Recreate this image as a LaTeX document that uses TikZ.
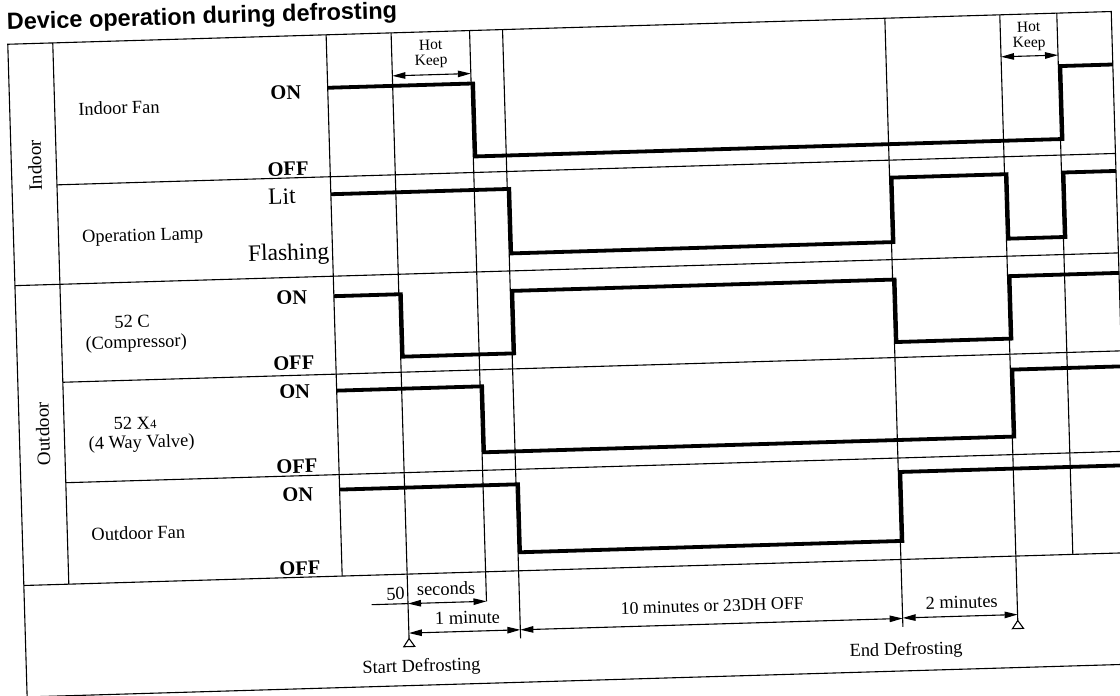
\documentclass[tikz,border=0pt]{standalone}
\usepackage{fontspec}
\setmainfont{Liberation Serif}
\newfontfamily\titlefont{Liberation Sans}
\usetikzlibrary{arrows.meta}
\tikzset{
  frame/.style={line width=1.1pt},
  sig/.style={line width=3.8pt, line join=miter},
  dimarrow/.style={line width=1.1pt, arrows={Triangle[length=13pt,width=6.5pt]-Triangle[length=13pt,width=6.5pt]}},
  txt/.style={inner sep=0pt, font=\fontsize{18.4}{20}\selectfont},
  onoff/.style={inner sep=0pt, anchor=base, font=\bfseries\fontsize{20.5}{22}\selectfont},
  big/.style={inner sep=0pt, anchor=base, font=\fontsize{23.5}{26}\selectfont},
  hk/.style={inner sep=0pt, anchor=base, font=\fontsize{15.5}{17}\selectfont},
  marker/.style={line width=1.1pt},
}
\begin{document}
\begin{tikzpicture}[x=1pt,y=-1pt]
\useasboundingbox (0,0) rectangle (1120,696);
\clip (0,0) rectangle (1120,696);
\def\xL{17}\def\xG{62}\def\xC{335.5}\def\xR{1121}
\def\tA{400.5}\def\tB{479}\def\tC{512}\def\tD{894.5}\def\tE{1009.5}\def\tF{1066.5}
\def\yTop{28}\def\yA{170}\def\yB{269.5}\def\yC{367.5}\def\yD{468}\def\yE{569.5}\def\yBot{681}
\begin{scope}[rotate around={1.7:(560,348)}, transform shape]
% title
\node[anchor=base west, inner sep=0pt, font=\titlefont\bfseries\fontsize{23.5}{26}\selectfont] (title) at (16.5,13.5) {Device operation during defrosting};
% frame
\draw[frame] (\xL,\yTop) -- (\xR,\yTop) -- (\xR,\yBot) -- (\xL,\yBot) -- cycle;
\draw[frame] (\xG,\yTop) -- (\xG,\yE);
\draw[frame] (\xC,\yTop) -- (\xC,\yE);
\draw[frame] (\xG,\yA) -- (\xR,\yA);
\draw[frame] (\xL,\yB) -- (\xR,\yB);
\draw[frame] (\xG,\yC) -- (\xR,\yC);
\draw[frame] (\xG,\yD) -- (\xR,\yD);
\draw[frame] (\xL,\yE) -- (\xR,\yE);
% time lines
\draw[frame] (\tA,\yTop) -- (\tA,634);
\draw[frame] (\tB,\yTop) -- (\tB,599);
\draw[frame] (\tC,\yTop) -- (\tC,637);
\draw[frame] (\tD,\yTop) -- (\tD,637);
\draw[frame] (\tE,\yTop) -- (\tE,634);
\draw[frame] (\tF,\yTop) -- (\tF,\yE);
% start / end markers
\draw[marker] (\tA,634) -- ++(-5.5,8) -- ++(11,0) -- cycle;
\draw[marker] (\tE,634) -- ++(-5.5,8) -- ++(11,0) -- cycle;
% group labels
\node[txt, rotate=90, font=\fontsize{19}{21}\selectfont] (indoor) at (40.5,150) {Indoor};
\node[txt, rotate=90, font=\fontsize{19}{21}\selectfont] (outdoor) at (40.5,418.5) {Outdoor};
% device labels
\node[txt, anchor=base west] (fan) at (85.5,101) {Indoor Fan};
\node[txt, anchor=base west] (lamp) at (85.5,228.6) {Operation Lamp};
\node[txt, anchor=base] (c52) at (133,315) {52 C};
\node[txt, anchor=base] (comp) at (136.5,335.3) {(Compressor)};
\node[txt, anchor=base] (x52) at (133,416.7) {52 X{\fontsize{12.5}{14}\selectfont 4}};
\node[txt, anchor=base] (valve) at (139,435.5) {(4 Way Valve)};
\node[txt, anchor=base west] (ofan) at (86,526.8) {Outdoor Fan};
% state labels
\node[onoff] (on1) at (293.5,91.4) {ON};
\node[onoff] (off1) at (293.5,167.6) {OFF};
\node[big] (lit) at (286.5,196) {Lit};
\node[big] (flash) at (291.5,252) {Flashing};
\node[onoff] (on3) at (293.5,296.6) {ON};
\node[onoff] (off3) at (293.5,361.6) {OFF};
\node[onoff] (on4) at (293.5,390.2) {ON};
\node[onoff] (off4) at (293.5,465.3) {OFF};
\node[onoff] (on5) at (293.5,493.6) {ON};
\node[onoff] (off5) at (293.5,567.2) {OFF};
% signals
\draw[sig] (\xC,81) -- (\tB+2,81) -- (\tB+2,154) -- (\tF+2,154) -- (\tF+2,81) -- (\xR,81);
\draw[sig] (\xC,187.5) -- (\tC+2,187.5) -- (\tC+2,252) -- (\tD+2,252) -- (\tD+2,187.5) -- (\tE+2,187.5) -- (\tE+2,252) -- (\tF+2,252) -- (\tF+2,187.5) -- (\xR,187.5);
\draw[sig] (\xC,289.5) -- (\tA+2,289.5) -- (\tA+2,352) -- (\tC+2,352) -- (\tC+2,289.5) -- (\tD+2,289.5) -- (\tD+2,352) -- (\tE+2,352) -- (\tE+2,289.5) -- (\xR,289.5);
\draw[sig] (\xC,384) -- (\tB+2,384) -- (\tB+2,450) -- (\tE+2,450) -- (\tE+2,383) -- (\xR,383);
\draw[sig] (\xC,483) -- (\tC+2,483) -- (\tC+2,551) -- (\tD+2,551) -- (\tD+2,482) -- (\xR,482);
% hot keep
\draw[dimarrow] (\tA,71) -- (\tB,71);
\node[hk] (hot1) at (439.7,46) {Hot};
\node[hk] (keep1) at (439.7,61.5) {Keep};
\draw[dimarrow] (\tE,70) -- (\tF,70);
\node[hk] (hot2) at (1038,46) {Hot};
\node[hk] (keep2) at (1038,61.5) {Keep};
% timing row
\draw[frame] (364,599) -- (\tA,599);
\draw[dimarrow] (\tA,599) -- (\tB,599);
\node[txt, anchor=base east] (fifty) at (397.7,595) {50};
\node[txt, anchor=base] (sec) at (439,591.5) {seconds};
\draw[dimarrow] (\tA,628.5) -- (\tC,628.5);
\node[txt, anchor=base] (onemin) at (459.5,621) {1 minute};
\draw[dimarrow] (\tC,628.5) -- (\tD,628.5);
\node[txt, anchor=base, font=\fontsize{17.8}{19}\selectfont] (tenmin) at (704.5,616) {10 minutes or 23DH OFF};
\draw[dimarrow] (\tD,628) -- (\tE,628);
\node[txt, anchor=base] (twomin) at (954,620) {2 minutes};
\node[txt, anchor=base] (start) at (412,667.5) {Start Defrosting};
\node[txt, anchor=base] (end) at (897,665.3) {End Defrosting};
\end{scope}
\end{tikzpicture}
\end{document}
